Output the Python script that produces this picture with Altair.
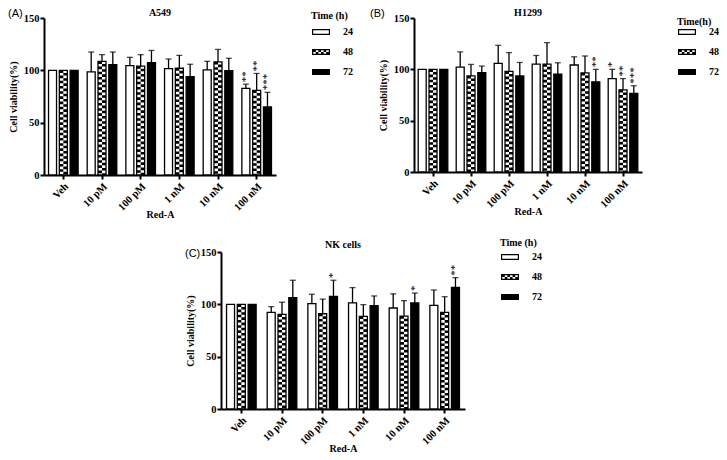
import altair as alt
import pandas as pd

conc = ["Veh", "10 pM", "100 pM", "1 nM", "10 nM", "100 nM"]
times = ["24", "48", "72"]

# ---- A549 ----
a549_mean_24 = [100, 98.5, 104.5, 101.7, 100.4, 82.7]
a549_mean_48 = [100, 108.6, 104.0, 102.0, 108.0, 80.8]
a549_mean_72 = [100, 105.5, 107.4, 94.0, 99.8, 65.0]
a549_top_24 = [100, 117.5, 112.4, 110.8, 108.6, 86.8]
a549_top_48 = [100, 115.0, 115.0, 114.3, 120.0, 97.0]
a549_top_72 = [100, 117.5, 119.0, 105.8, 111.5, 79.0]
a549_sig_24 = ["", "", "", "", "", "**"]
a549_sig_48 = ["", "", "", "", "", "**"]
a549_sig_72 = ["", "", "", "", "", "***"]

# ---- H1299 ----
h1299_mean_24 = [100, 102.2, 105.8, 105.0, 104.2, 91.0]
h1299_mean_48 = [100, 93.6, 98.0, 105.0, 96.5, 80.0]
h1299_mean_72 = [100, 96.8, 93.6, 95.2, 87.8, 76.6]
h1299_top_24 = [100, 117.0, 123.4, 113.5, 112.2, 100.0]
h1299_top_48 = [100, 104.8, 116.3, 126.0, 113.0, 91.0]
h1299_top_72 = [100, 103.2, 106.7, 106.4, 100.0, 84.0]
h1299_sig_24 = ["", "", "", "", "", "*"]
h1299_sig_48 = ["", "", "", "", "", "**"]
h1299_sig_72 = ["", "", "", "", "**", "***"]

# ---- NK cells ----
nk_mean_24 = [100, 92.4, 100.6, 101.3, 96.5, 99.0]
nk_mean_48 = [100, 90.4, 91.0, 88.5, 88.8, 92.4]
nk_mean_72 = [100, 106.4, 107.6, 98.7, 101.3, 116.2]
nk_top_24 = [100, 97.8, 109.6, 116.0, 110.0, 113.7]
nk_top_48 = [100, 102.0, 105.0, 99.7, 103.5, 107.3]
nk_top_72 = [100, 123.0, 123.0, 108.0, 110.8, 125.5]
nk_sig_24 = ["", "", "", "", "", ""]
nk_sig_48 = ["", "", "", "", "", ""]
nk_sig_72 = ["", "", "*", "", "*", "**"]


def make_df(means, tops, sigs):
    rows = []
    for t, m, u, s in zip(times, means, tops, sigs):
        for c, mv, uv, sv in zip(conc, m, u, s):
            rows.append({"conc": c, "time": t, "mean": mv, "upper": uv, "sig": sv})
    return pd.DataFrame(rows)


df_a = make_df([a549_mean_24, a549_mean_48, a549_mean_72],
               [a549_top_24, a549_top_48, a549_top_72],
               [a549_sig_24, a549_sig_48, a549_sig_72])
df_b = make_df([h1299_mean_24, h1299_mean_48, h1299_mean_72],
               [h1299_top_24, h1299_top_48, h1299_top_72],
               [h1299_sig_24, h1299_sig_48, h1299_sig_72])
df_c = make_df([nk_mean_24, nk_mean_48, nk_mean_72],
               [nk_top_24, nk_top_48, nk_top_72],
               [nk_sig_24, nk_sig_48, nk_sig_72])

SERIF = "Liberation Serif"
SANS = "Liberation Sans"

# ---- style constants ----
BW = 8.0       # bar width (px)
STEP = 10.8    # distance between bar centres in a group (px)
OFFS = {"24": -STEP, "48": 0.0, "72": STEP}
LW = 1.3


def rect_path(x0, y0, x1, y1, ccw=False):
    if not ccw:
        return f"M{x0:.3f},{y0:.3f}L{x1:.3f},{y0:.3f}L{x1:.3f},{y1:.3f}L{x0:.3f},{y1:.3f}Z"
    return f"M{x0:.3f},{y0:.3f}L{x0:.3f},{y1:.3f}L{x1:.3f},{y1:.3f}L{x1:.3f},{y0:.3f}Z"


# legend swatch shapes (unit square [-1,1])
OX, OY, T = 0.9, 0.3, 0.12
frame = rect_path(-OX, -OY, OX, OY) + rect_path(-OX + T, -OY + T, OX - T, OY - T, ccw=True)
checker = ""
ncol, nrow = 6, 2
cw = (2 * (OX - T)) / ncol
ch = (2 * (OY - T)) / nrow
for i in range(nrow):
    for j in range(ncol):
        if (i + j) % 2 == 0:
            x0 = -OX + T + j * cw
            y0 = -OY + T + i * ch
            checker += rect_path(x0, y0, x0 + cw, y0 + ch)
shape_paths = [frame, frame + checker, rect_path(-OX, -OY, OX, OY)]


def panel(df, title, title_dy, label, label_dx, label_dy, legend_title, w, h,
          legend_dx, legend_dy, legend_tpad):
    xenc = alt.X("conc:N", sort=conc, title="Red-A",
                 scale=alt.Scale(paddingInner=0, paddingOuter=0),
                 axis=alt.Axis(labelAngle=-45, titleY=42, titleBaseline="alphabetic",
                               labelPadding=2))
    ytitle = "Cell viability(%)"
    ysc = alt.Scale(domain=[0, 150], nice=False)
    yaxis = alt.Axis(values=[0, 50, 100, 150], labelPadding=1, titlePadding=5)

    def Y(field):
        return alt.Y(f"{field}:Q", scale=ysc, axis=yaxis, title=ytitle)

    base = alt.Chart(df)
    layers = []

    # hidden layer driving the legend
    layers.append(
        base.mark_point(filled=True, opacity=0, color="black").encode(
            x=xenc, y=Y("mean"),
            shape=alt.Shape("time:N", scale=alt.Scale(domain=times, range=shape_paths),
                            legend=alt.Legend(orient="none", legendX=w + legend_dx,
                                              legendY=legend_dy,
                                              title=legend_title, titleFont=SERIF,
                                              titleFontWeight="bold", titleFontSize=10,
                                              titleColor="black", titlePadding=legend_tpad,
                                              labelFont=SERIF, labelFontWeight="bold",
                                              labelFontSize=10, labelColor="black",
                                              symbolSize=400, symbolOpacity=1,
                                              symbolStrokeWidth=0, symbolFillColor="black",
                                              labelOffset=12, rowPadding=5))
        )
    )

    d24 = base.transform_filter("datum.time == '24'")
    d48 = base.transform_filter("datum.time == '48'")
    d72 = base.transform_filter("datum.time == '72'")

    # 24 h: open bars
    layers.append(d24.mark_bar(width=BW, xOffset=OFFS["24"], fill="white", stroke="black",
                               strokeWidth=LW).encode(x=xenc, y=Y("mean")))
    # 48 h: checkered bars
    layers.append(d48.mark_bar(width=BW, xOffset=OFFS["48"], fill="white").encode(x=xenc, y=Y("mean")))
    layers.append(d48.mark_rule(xOffset=OFFS["48"] - BW / 4, strokeWidth=BW / 2, color="black",
                                strokeDash=[2.6, 2.6], strokeDashOffset=0).encode(
        x=xenc, y=Y("mean"), y2=alt.datum(0)))
    layers.append(d48.mark_rule(xOffset=OFFS["48"] + BW / 4, strokeWidth=BW / 2, color="black",
                                strokeDash=[2.6, 2.6], strokeDashOffset=2.6).encode(
        x=xenc, y=Y("mean"), y2=alt.datum(0)))
    layers.append(d48.mark_bar(width=BW, xOffset=OFFS["48"], fillOpacity=0, stroke="black",
                               strokeWidth=LW).encode(x=xenc, y=Y("mean")))
    # 72 h: solid bars
    layers.append(d72.mark_bar(width=BW, xOffset=OFFS["72"], fill="black", stroke="black",
                               strokeWidth=LW).encode(x=xenc, y=Y("mean")))

    # error bars + caps + significance stars
    for t, d in (("24", d24), ("48", d48), ("72", d72)):
        e = d.transform_filter("datum.upper > datum.mean")
        layers.append(e.mark_rule(xOffset=OFFS[t], strokeWidth=LW, color="black").encode(
            x=xenc, y=Y("mean"), y2="upper:Q"))
        layers.append(e.mark_tick(xOffset=OFFS[t], size=6, thickness=LW, color="black",
                                  orient="horizontal").encode(x=xenc, y=Y("upper")))
        s = d.transform_filter("datum.sig != ''")
        layers.append(s.mark_text(xOffset=OFFS[t], angle=270, align="left", baseline="middle",
                                  dx=2, font=SERIF, fontSize=11, color="black").encode(
            x=xenc, y=Y("upper"), text="sig:N"))

    # panel letter and panel title
    lab_df = pd.DataFrame({"lab": [label], "ttl": [title]})
    layers.append(
        alt.Chart(lab_df).mark_text(
            align="left", baseline="top", font=SANS, fontSize=11, color="black"
        ).encode(x=alt.value(label_dx), y=alt.value(label_dy), text="lab:N")
    )
    layers.append(
        alt.Chart(lab_df).mark_text(
            align="center", baseline="alphabetic", font=SERIF, fontSize=10,
            fontWeight="bold", color="black"
        ).encode(x=alt.value(w / 2), y=alt.value(title_dy), text="ttl:N")
    )

    return alt.layer(*layers).properties(width=w, height=h)


pa = panel(df_a, "A549", -2, "(A)", -36, -10, "Time (h)", 232, 157, 35, -7, 1)
pb = panel(df_b, "H1299", -2, "(B)", -44, -10, "Time(h)", 228, 154, 35, -1, -5)
pc = panel(df_c, "NK cells", -4, "(C)", -36, -4, "Time (h)", 244, 157, 35, -14, -1)

top = alt.hconcat(pa, pb, spacing=17).resolve_scale(shape="independent").resolve_legend(
    shape="independent")

chart = alt.vconcat(
    top,
    pc,
    spacing=19,
    center=True,
).properties(
    padding=0, background="white"
).configure_view(stroke=None).configure_axis(
    domainColor="black", domainWidth=2, tickColor="black", tickWidth=2, tickSize=4,
    labelFont=SERIF, labelFontWeight="bold", labelFontSize=10.5, labelColor="black",
    titleFont=SERIF, titleFontWeight="bold", titleFontSize=10, titleColor="black",
    grid=False,
).resolve_scale(shape="independent").resolve_legend(shape="independent")

chart.save("out.html", embed_options={"renderer": "svg", "actions": False})
